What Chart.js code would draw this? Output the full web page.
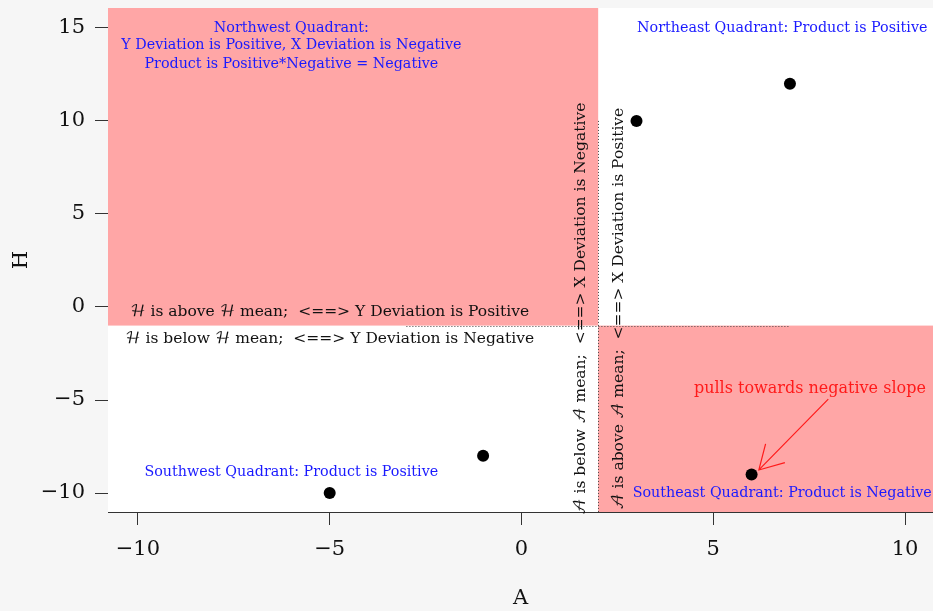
<html lang="en">
  <head>
    <meta charset="UTF-8" />
    <title>Quadrants</title>
    <style>
      body { margin: 0; background: #f6f6f6; }
    </style>
  </head>
  <body>
    <canvas id="myChart" width="933" height="611"></canvas>
  </body>
  <script src="https://cdn.jsdelivr.net/npm/chart.js@4"></script>
  <script>
    // data
    const aValues = [-5, -1, 3, 7, 6];
    const hValues = [-10, -8, 10, 12, -9];
    const xTicks = [-10, -5, 0, 5, 10];
    const yTicks = [-10, -5, 0, 5, 10, 15];

    const aMean = aValues.reduce((s, v) => s + v, 0) / aValues.length;
    const hMean = hValues.reduce((s, v) => s + v, 0) / hValues.length;

    const SERIF = '"DejaVu Serif", "DejaVu Math TeX Gyre", serif';
    const PINK = "#ffa6a6";
    const minus = (v) => String(v).replace("-", "\u2212");

    // annotation texts, placed in data units
    const blueNotes = [
      { x: -6, y: 15, text: "Northwest Quadrant:" },
      { x: -6, y: 14.05, text: "Y Deviation is Positive, X Deviation is Negative" },
      { x: -6, y: 13.05, text: "Product is Positive*Negative = Negative" },
      { x: 6.8, y: 15, text: "Northeast Quadrant: Product is Positive" },
      { x: -6, y: -8.9, text: "Southwest Quadrant: Product is Positive" },
      { x: 6.8, y: -10, text: "Southeast Quadrant: Product is Negative" },
    ];

    const quadrantPlugin = {
      id: "quadrants",
      beforeDatasetsDraw(chart) {
        const { ctx, chartArea: ca, scales } = chart;
        const xs = scales.x, ys = scales.y;
        const mx = xs.getPixelForValue(aMean);
        const my = ys.getPixelForValue(hMean);
        ctx.save();
        ctx.fillStyle = "#fff";
        ctx.fillRect(ca.left, ca.top, ca.right - ca.left, ca.bottom - ca.top);
        ctx.fillStyle = PINK;
        ctx.fillRect(ca.left, ca.top, mx - ca.left, my - ca.top);
        ctx.fillRect(mx, my, ca.right - mx, ca.bottom - my);

        // dotted mean lines
        ctx.strokeStyle = "#444";
        ctx.lineWidth = 1;
        ctx.setLineDash([1, 2]);
        ctx.beginPath();
        ctx.moveTo(Math.round(mx) + 0.5, ys.getPixelForValue(hMean + 11));
        ctx.lineTo(Math.round(mx) + 0.5, ca.bottom);
        ctx.moveTo(xs.getPixelForValue(aMean - 5), Math.round(my) + 0.5);
        ctx.lineTo(xs.getPixelForValue(aMean + 5), Math.round(my) + 0.5);
        ctx.stroke();
        ctx.setLineDash([]);

        // mean labels
        ctx.fillStyle = "#111";
        ctx.font = "15.5px " + SERIF;
        ctx.textAlign = "center";
        ctx.textBaseline = "middle";
        const cx = xs.getPixelForValue(-5);
        ctx.fillText("\u210B is above \u210B mean;  <==> Y Deviation is Positive", cx, ys.getPixelForValue(hMean + 0.73));
        ctx.fillText("\u210B is below \u210B mean;  <==> Y Deviation is Negative", cx, ys.getPixelForValue(hMean - 0.72));

        const cy = ys.getPixelForValue(-0.1);
        [[aMean - 0.45, "\u{1D49C} is below \u{1D49C} mean;  <==> X Deviation is Negative"],
         [aMean + 0.55, "\u{1D49C} is above \u{1D49C} mean;  <==> X Deviation is Positive"]].forEach(([xv, t]) => {
          ctx.save();
          ctx.translate(xs.getPixelForValue(xv), cy);
          ctx.rotate(-Math.PI / 2);
          ctx.fillText(t, 0, 0);
          ctx.restore();
        });

        // quadrant notes
        ctx.fillStyle = "#1a1aff";
        ctx.font = "14.3px " + SERIF;
        blueNotes.forEach((n) => {
          ctx.fillText(n.text, xs.getPixelForValue(n.x), ys.getPixelForValue(n.y));
        });

        // red arrow note
        ctx.fillStyle = "#ff1a1a";
        ctx.strokeStyle = "#ff1a1a";
        ctx.font = "16px " + SERIF;
        ctx.fillText("pulls towards negative slope", xs.getPixelForValue(7.52), ys.getPixelForValue(-4.4));
        const x0 = xs.getPixelForValue(8.0), y0 = ys.getPixelForValue(-4.95);
        const x1 = xs.getPixelForValue(6.19), y1 = ys.getPixelForValue(-8.76);
        const ang = Math.atan2(y0 - y1, x0 - x1);
        const len = 27, spread = Math.PI / 6;
        ctx.lineWidth = 1.2;
        ctx.beginPath();
        ctx.moveTo(x0, y0);
        ctx.lineTo(x1, y1);
        ctx.moveTo(x1 + len * Math.cos(ang - spread), y1 + len * Math.sin(ang - spread));
        ctx.lineTo(x1, y1);
        ctx.lineTo(x1 + len * Math.cos(ang + spread), y1 + len * Math.sin(ang + spread));
        ctx.stroke();
        ctx.restore();
      },
    };

    const ctx = document.getElementById("myChart").getContext("2d");
    const myChart = new Chart(ctx, {
      type: "scatter",
      data: {
        datasets: [
          {
            data: aValues.map((a, i) => ({ x: a, y: hValues[i] })),
            backgroundColor: "#000",
            borderWidth: 0,
            pointRadius: 6,
          },
        ],
      },
      options: {
        responsive: false,
        animation: false,
        layout: { autoPadding: false, padding: { top: 8, right: 0, left: 0, bottom: 0 } },
        plugins: { legend: { display: false }, tooltip: { enabled: false } },
        scales: {
          x: {
            type: "linear",
            min: -10.78,
            max: 10.73,
            afterBuildTicks: (s) => { s.ticks = xTicks.map((v) => ({ value: v })); },
            afterFit: (s) => { s.height = 99; s.paddingLeft = 0; s.paddingRight = 0; },
            ticks: { color: "#111", font: { family: SERIF, size: 21 }, padding: 12, callback: minus },
            grid: { drawOnChartArea: false, tickLength: 13, color: "#333" },
            border: { display: true, color: "#333" },
            title: { display: true, text: "A", color: "#111", font: { family: SERIF, size: 21 }, padding: 0 },
          },
          y: {
            type: "linear",
            min: -11.02,
            max: 16.07,
            afterBuildTicks: (s) => { s.ticks = yTicks.map((v) => ({ value: v })); },
            afterFit: (s) => { s.width = 108; s.paddingTop = 0; s.paddingBottom = 0; },
            ticks: { color: "#111", font: { family: SERIF, size: 21 }, padding: 10, callback: minus },
            grid: { drawOnChartArea: false, tickLength: 13, color: "#333" },
            border: { display: false },
            title: { display: true, text: "H", color: "#111", font: { family: SERIF, size: 21 }, padding: { top: 9, bottom: 0 } },
          },
        },
      },
      plugins: [quadrantPlugin],
    });
  </script>
</html>
